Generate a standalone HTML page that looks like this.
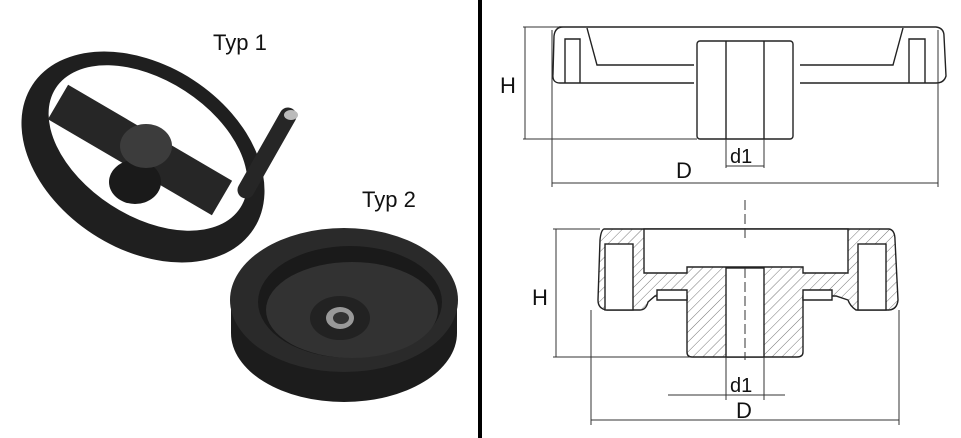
<!DOCTYPE html>
<html><head><style>
html,body{margin:0;padding:0;background:#fff;}
svg{display:block;font-family:"Liberation Sans",Arial,sans-serif;}
</style></head><body>
<svg width="961" height="438" viewBox="0 0 961 438" xmlns="http://www.w3.org/2000/svg">
<defs>
<pattern id="h" width="7" height="7" patternUnits="userSpaceOnUse" patternTransform="rotate(45)">
<rect width="7" height="7" fill="#fff"/><line x1="0" y1="0" x2="0" y2="7" stroke="#777" stroke-width="1"/>
</pattern>
</defs>
<rect width="961" height="438" fill="#fff"/>
<rect x="478" y="0" width="4" height="438" fill="#000"/>

<!-- Typ 1 -->
<g>
<ellipse cx="143" cy="157" rx="132" ry="92" transform="rotate(33 143 157)" fill="#1f1f1f"/>
<ellipse cx="148" cy="148" rx="110" ry="68" transform="rotate(33 148 148)" fill="#fff"/>
<line x1="58" y1="102" x2="222" y2="198" stroke="#262626" stroke-width="40"/>
<ellipse cx="135" cy="182" rx="26" ry="22" fill="#1a1a1a"/>
<ellipse cx="146" cy="146" rx="26" ry="22" fill="#3c3c3c"/>
<line x1="288" y1="116" x2="246" y2="190" stroke="#262626" stroke-width="17" stroke-linecap="round"/>
<ellipse cx="291" cy="115" rx="7" ry="5" fill="#bbb"/>
</g>
<text x="213" y="50" font-size="22" fill="#111">Typ 1</text>

<!-- Typ 2 -->
<g>
<ellipse cx="344" cy="333" rx="113" ry="69" fill="#1c1c1c"/>
<rect x="231" y="300" width="226" height="33" fill="#1c1c1c"/>
<ellipse cx="344" cy="300" rx="114" ry="72" fill="#2a2a2a"/>
<ellipse cx="350" cy="302" rx="92" ry="56" fill="#1a1a1a"/>
<ellipse cx="352" cy="310" rx="86" ry="48" fill="#323232"/>
<ellipse cx="340" cy="318" rx="30" ry="22" fill="#222"/>
<ellipse cx="340" cy="318" rx="14" ry="11" fill="#999"/>
<ellipse cx="341" cy="318" rx="8" ry="6" fill="#333"/>
</g>
<text x="362" y="207" font-size="22" fill="#111">Typ 2</text>

<!-- top drawing -->
<g fill="none" stroke="#222" stroke-width="1.4">
<path d="M559 27 L936 27 Q944 28 944 36 L946 76 Q944 83 936 83 L800 83 M694 83 L560 83 Q552 83 553 74 L554 36 Q555 27 563 27"/>
<path d="M587 28 L597 65 L694 65 M800 65 L893 65 L903 28"/>
<path d="M565 83 L565 39 L580 39 L580 83"/>
<path d="M909 83 L909 39 L925 39 L925 83"/>
<rect x="697" y="41" width="96" height="98" rx="3"/>
<line x1="726" y1="41" x2="726" y2="139"/>
<line x1="764" y1="41" x2="764" y2="139"/>
</g>
<g stroke="#333" stroke-width="1">
<line x1="523" y1="27" x2="560" y2="27"/>
<line x1="523" y1="139" x2="697" y2="139"/>
<line x1="525" y1="27" x2="525" y2="139"/>
<line x1="552" y1="30" x2="552" y2="187"/>
<line x1="938" y1="30" x2="938" y2="187"/>
<line x1="552" y1="183" x2="938" y2="183"/>
<line x1="726" y1="139" x2="726" y2="168"/>
<line x1="764" y1="139" x2="764" y2="168"/>
<line x1="726" y1="166" x2="764" y2="166"/>
</g>
<text x="500" y="93" font-size="22" fill="#111">H</text>
<text x="676" y="178" font-size="22" fill="#111">D</text>
<text x="730" y="163" font-size="20" fill="#111">d1</text>

<!-- bottom drawing -->
<g stroke="#222" stroke-width="1.4">
<path fill="url(#h)" d="M604 229 L889 229 Q895 230 895 240 L898 300 Q897 310 888 310 L856 310 Q850 306 848 300 L836 296 L803 296 L803 352 Q803 357 797 357 L692 357 Q687 357 687 352 L687 296 L655 296 L648 302 Q646 310 640 310 L607 310 Q598 309 598 300 L600 240 Q601 230 604 229 Z"/>
<path fill="#fff" d="M644 229 L644 273 L687 273 L687 267 L803 267 L803 273 L848 273 L848 229 Z"/>
<path fill="#fff" d="M657 290 L687 290 L687 300 L657 300 Z M803 290 L832 290 L832 300 L803 300 Z"/>
<rect x="605" y="244" width="28" height="66" fill="#fff"/>
<rect x="858" y="244" width="28" height="66" fill="#fff"/>
<rect x="726" y="268" width="38" height="89" fill="#fff"/>
</g>
<g stroke="#333" stroke-width="1" fill="none">
<line x1="745" y1="200" x2="745" y2="240" stroke-dasharray="10 4"/>
<line x1="745" y1="268" x2="745" y2="360" stroke-dasharray="10 4"/>
<line x1="553" y1="229" x2="600" y2="229"/>
<line x1="553" y1="357" x2="690" y2="357"/>
<line x1="556" y1="229" x2="556" y2="357"/>
<line x1="591" y1="310" x2="591" y2="425"/>
<line x1="899" y1="310" x2="899" y2="425"/>
<line x1="591" y1="420" x2="899" y2="420"/>
<line x1="726" y1="357" x2="726" y2="400"/>
<line x1="764" y1="357" x2="764" y2="400"/>
<line x1="668" y1="395" x2="785" y2="395"/>
</g>
<text x="532" y="305" font-size="22" fill="#111">H</text>
<text x="736" y="418" font-size="22" fill="#111">D</text>
<text x="730" y="392" font-size="20" fill="#111">d1</text>
</svg>
</body></html>
